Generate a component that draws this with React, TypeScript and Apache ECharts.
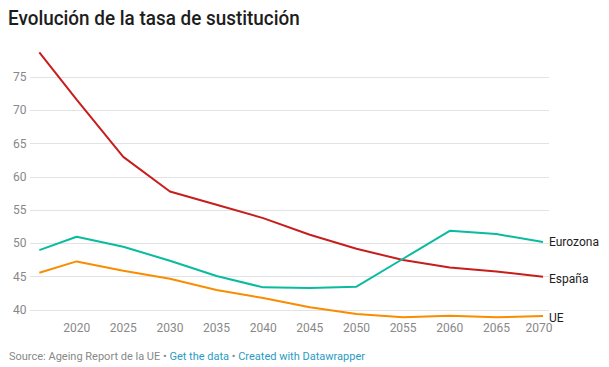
import React, { useEffect, useRef } from "react";
import * as echarts from "echarts";

const years = [2016, 2020, 2025, 2030, 2035, 2040, 2045, 2050, 2055, 2060, 2065, 2070];
const espana = [78.7, 71.6, 63.0, 57.8, 55.8, 53.8, 51.3, 49.2, 47.5, 46.4, 45.8, 45.0];
const eurozona = [49.0, 51.0, 49.5, 47.4, 45.1, 43.4, 43.3, 43.5, 47.7, 51.9, 51.4, 50.2];
const ue = [45.6, 47.3, 45.9, 44.7, 43.0, 41.8, 40.4, 39.4, 38.9, 39.15, 38.9, 39.1];
const yTicks = [40, 45, 50, 55, 60, 65, 70, 75];

const FONT = "Roboto, 'Noto Sans', sans-serif";

export default function App() {
  const ref = useRef<HTMLDivElement>(null);
  useEffect(() => {
    document.body.style.margin = "0";
    const chart = echarts.init(ref.current!, null, { renderer: "svg" });
    const mk = (name: string, vals: number[], color: string, offY: number) => ({
      name,
      type: "line",
      data: years.map((y, i) => [y, vals[i]]),
      symbol: "none",
      clip: false,
      lineStyle: { color, width: 2 },
      itemStyle: { color },
      endLabel: {
        show: true,
        formatter: "{a}",
        color: "#1d1d1d",
        fontSize: 12,
        fontFamily: FONT,
        distance: 6,
        offset: [0, offY],
      },
    });
    chart.setOption({
      animation: false,
      graphic: [
        {
          type: "text",
          x: 8,
          y: 8,
          scaleX: 0.922,
          style: {
            text: "Evolución de la tasa de sustitución",
            fill: "#1d1d1d",
            fontSize: 20.5,
            fontWeight: 500,
            fontFamily: FONT,
            verticalAlign: "top",
          },
        },
        {
          type: "text",
          left: 9,
          top: 351,
          style: {
            text: "{g|Source: Ageing Report de la UE • }{b|Get the data}{g| • }{b|Created with Datawrapper}",
            rich: {
              g: { fill: "#888888", fontSize: 11, fontFamily: FONT },
              b: { fill: "#2a9bc4", fontSize: 11, fontFamily: FONT },
            },
          },
        },
      ],
      grid: { left: 30, right: 60, top: 77, bottom: 57 },
      xAxis: {
        type: "value",
        min: 2015,
        max: 2070.64,
        interval: 5,
        axisLine: { show: false },
        axisTick: { show: false },
        splitLine: { show: false },
        axisLabel: {
          color: "#888888",
          fontSize: 12,
          fontFamily: FONT,
          margin: 12,
          showMaxLabel: true,
          formatter: (v: number) =>
            v === 2070 ? "{r|2070}" : v > 2015 && v % 5 === 0 ? String(v) : "",
          rich: {
            r: { color: "#888888", fontSize: 12, fontFamily: FONT, padding: [0, 8, 0, 0] },
          },
        },
      },
      yAxis: {
        type: "value",
        min: yTicks[0],
        max: yTicks[yTicks.length - 1],
        interval: 5,
        axisLine: { show: false },
        axisTick: { show: false },
        splitLine: { lineStyle: { color: "#e3e3e3", width: 1 } },
        axisLabel: {
          color: "#888888",
          fontSize: 12,
          fontFamily: FONT,
          align: "left",
          margin: 17,
        },
      },
      series: [
        mk("España", espana, "#c71e1d", 2),
        mk("Eurozona", eurozona, "#09bb9f", 0),
        mk("UE", ue, "#fa8c00", 2),
      ],
    });
    return () => chart.dispose();
  }, []);
  return <div ref={ref} style={{ width: 609, height: 367 }} />;
}
